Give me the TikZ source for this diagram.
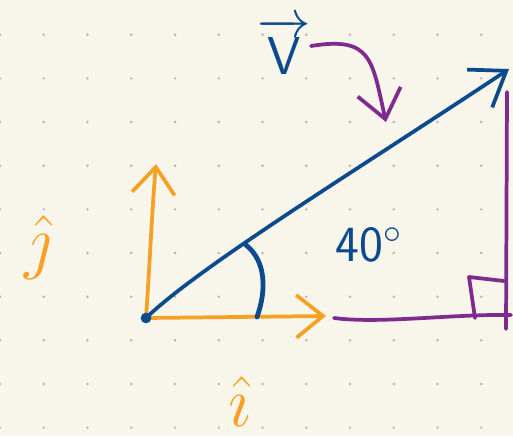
\RequirePackage{fix-cm}
\documentclass[tikz,border=0pt]{standalone}
\usepackage{amsmath, amssymb}
\usetikzlibrary{arrows.meta}

\definecolor{paper}{HTML}{F8F5EA}
\definecolor{dotgray}{HTML}{B4B2A8}
\definecolor{inkblue}{HTML}{0B4A8E}
\definecolor{inkorange}{HTML}{F6A024}
\definecolor{inkpurple}{HTML}{7E2A8E}

\tikzset{
	ink/.style={line width=2.8pt, line cap=round, line join=round},
	vecline/.style={ink, draw=inkblue, -{Straight Barb[length=24pt, width=34pt]}},
	unitline/.style={ink, draw=inkorange, -{Straight Barb[length=20pt, width=32pt]}},
	noteline/.style={ink, draw=inkpurple, -{Straight Barb[length=21pt, width=33pt]}},
	guide/.style={ink, draw=inkpurple},
	hand/.style={inner sep=0pt, font=\fontsize{#1}{#1}\selectfont}
}

\begin{document}
\begin{tikzpicture}[x=0.75pt, y=-0.75pt]
	% Paper and dot grid
	\fill[paper] (0,0) rectangle (513,436);
	\useasboundingbox (0,0) rectangle (513,436);
	\foreach \gx in {0,...,11}
		\foreach \gy in {0,...,9}
			\fill[dotgray] ({43.75*\gx}, {34.7+43.66*\gy}) circle (1pt);

	% Points
	\coordinate (O) at (146,318);
	\coordinate (vtip) at (509,69);
	\coordinate (itip) at (326,316);
	\coordinate (jtip) at (156,164);
	\coordinate (a1) at (246,245);
	\coordinate (a2) at (257,317);
	\coordinate (hstart) at (334,318);
	\coordinate (hend) at (511,315);
	\coordinate (vtop) at (507,92);
	\coordinate (vbot) at (506,329);
	\coordinate (pstart) at (311,46);
	\coordinate (ptip) at (386,122);

	% Labels
	\node[hand=40, text=inkblue] (Vlabel) at (284,46) {$\overrightarrow{\mathsf{V}}$};
	\node[hand=38, text=inkblue, font=\sffamily\fontsize{38}{40}\selectfont] (anglab) at (369,245) {40$^\circ$};
	\node[hand=54, text=inkorange] (jlab) at (38,247) {$\hat{\jmath}$};
	\node[hand=54, text=inkorange] (ilab) at (240,401) {$\hat{\imath}$};

	% Right triangle
	\draw[guide] (hstart) .. controls (380,324) and (450,314) .. (hend);
	\draw[guide] (vtop) -- (vbot);
	\draw[guide] (504,281) -- (469,277) -- (475,318);

	% Unit vectors
	\draw[unitline] (O) -- (itip);
	\draw[unitline] (O) .. controls (150,260) and (152,210) .. (jtip);

	% Vector and angle
	\draw[vecline] (O) .. controls (200,266) and (360,168) .. (vtip);
	\fill[inkblue] (O) circle (4pt);
	\draw[ink, draw=inkblue, line width=3.6pt] (a1) .. controls (267,262) and (266,292) .. (a2);

	% Note arrow
	\draw[noteline] (pstart) .. controls (372,36) and (372,60) .. (ptip);
\end{tikzpicture}
\end{document}
